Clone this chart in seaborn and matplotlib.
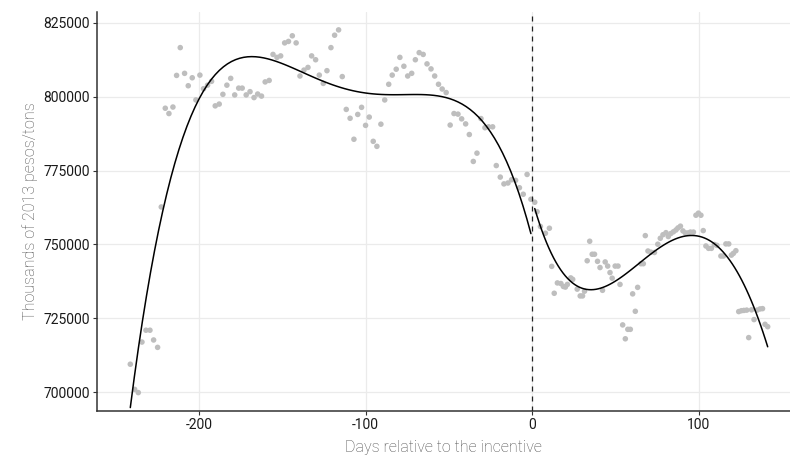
import numpy as np
import pandas as pd
import matplotlib
matplotlib.use("Agg")
import matplotlib.pyplot as plt
import seaborn as sns

# ---- data ----
days_left = [-241.4, -238.8, -236.6, -234.4, -232.0, -229.6, -227.4, -225.0, -222.8, -220.4,
             -218.2, -215.8, -213.6, -211.4, -208.8, -206.6, -204.2, -202.0, -199.6, -197.4,
             -195.0, -192.6, -190.4, -188.0, -185.8, -183.4, -181.1, -178.7, -176.3, -174.2,
             -171.8, -169.5, -167.1, -164.9, -162.6, -160.4, -158.0, -155.7, -153.3, -151.1,
             -148.7, -146.4, -144.1, -141.8, -139.5, -137.1, -134.7, -132.5, -130.1, -127.9,
             -125.5, -123.3, -120.9, -118.7, -116.3, -114.1, -111.7, -109.4, -107.1, -104.8,
             -102.5, -100.1, -97.9, -95.5, -93.3, -90.9, -88.6, -86.2, -84.1, -81.7,
             -79.5, -77.1, -74.8, -72.4, -70.2, -67.9, -65.5, -63.2, -60.8, -58.6,
             -56.3, -54.1, -51.7, -49.3, -47.0, -44.6, -42.4, -40.0, -37.8, -35.4,
             -33.2, -30.8, -28.4, -26.2, -23.8, -21.6, -19.2, -17.0, -14.6, -12.4,
             -10.0, -7.7, -5.4, -3.1, -0.8]
value_left = [709500, 701000, 699900, 717000, 721000, 721000, 717700, 715200, 762700, 796100,
              794300, 796500, 807200, 816600, 807900, 803700, 806400, 798900, 807300, 802700,
              803900, 805200, 796900, 797500, 800800, 803900, 806200, 800600, 802900, 802900,
              800600, 801700, 799700, 800900, 800200, 805000, 805500, 814300, 813300, 813800,
              818200, 818700, 820600, 818200, 807000, 809000, 809900, 813800, 812500, 807300,
              804500, 808800, 816600, 820800, 822600, 806800, 795700, 792700, 785600, 794000,
              796400, 790300, 793100, 784900, 783200, 790700, 798900, 804200, 807300, 809300,
              813300, 810300, 807000, 807900, 812500, 814900, 814300, 811100, 809400, 807000,
              804200, 802600, 801400, 790400, 794300, 794100, 792500, 790800, 787200, 778100,
              780900, 792600, 789500, 789800, 789800, 776700, 772800, 770500, 770800, 771900,
              771700, 769200, 767000, 773700, 765300]

days_right = [1.5, 2.9, 4.9, 7.9, 10.3, 11.7, 13.2, 15.1, 17.2, 18.7,
              19.9, 21.1, 23.1, 24.3, 27.0, 28.8, 30.2, 31.4, 33.0, 34.5,
              36.0, 37.4, 39.2, 40.7, 42.2, 43.8, 45.3, 46.7, 48.0, 49.8,
              51.5, 52.7, 54.3, 55.9, 57.4, 58.9, 60.3, 61.9, 63.3, 65.3,
              66.7, 67.9, 69.5, 71.3, 73.4, 75.4, 76.9, 78.5, 80.3, 81.7,
              83.2, 84.8, 86.3, 87.5, 89.0, 90.5, 92.0, 93.5, 95.0, 96.8,
              98.3, 99.8, 101.3, 102.7, 104.3, 105.9, 107.6, 109.4, 110.9, 113.3,
              114.8, 116.3, 118.0, 119.6, 120.8, 122.3, 124.0, 125.6, 127.1, 128.8,
              130.0, 131.7, 133.2, 135.0, 136.8, 138.3, 139.8, 141.4]
value_right = [764300, 761100, 756100, 753800, 755500, 742600, 733500, 737000, 736800, 735800,
               735600, 736500, 738700, 738200, 734900, 732600, 732600, 734200, 744500, 751100,
               746700, 746700, 744300, 742200, 734500, 744100, 742700, 740500, 738600, 742700,
               742700, 736500, 722800, 718100, 721300, 721300, 733300, 727400, 735500, 743500,
               743500, 753000, 747800, 747400, 747300, 750100, 752100, 753300, 754000, 752700,
               753700, 754300, 754900, 755600, 756200, 754600, 753900, 753900, 754200, 754200,
               759900, 760600, 759900, 754700, 749500, 748700, 748700, 750000, 749700, 746100,
               746100, 750200, 750200, 746400, 747000, 747900, 727300, 727600, 727700, 727800,
               718500, 727900, 724600, 727800, 728200, 728300, 723000, 722200]

x_ticks = [-200, -100, 0, 100]
y_ticks = [700000, 725000, 750000, 775000, 800000, 825000]
cutoff = 0
poly_order = 4

left = pd.DataFrame({"days": days_left, "value": value_left})
right = pd.DataFrame({"days": days_right, "value": value_right})
allpts = pd.concat([left, right], ignore_index=True)

# ---- figure ----
sns.set_theme(style="white")
plt.rcParams["font.family"] = ["Roboto", "DejaVu Sans"]

fig = plt.figure(figsize=(7.9, 4.55), dpi=100)
ax = fig.add_axes([97 / 790, 1 - 410.7 / 455, (790 - 97) / 790, (410.7 - 12) / 455])

ax.set_axisbelow(True)
ax.grid(True, color="#EBEBEB", linewidth=0.9)

sns.scatterplot(data=allpts, x="days", y="value", color="#BEBEBE", s=16,
                edgecolor="none", linewidth=0, ax=ax, zorder=2)
sns.regplot(data=left, x="days", y="value", order=poly_order, scatter=False, ci=None,
            truncate=True, line_kws={"color": "black", "linewidth": 1.1, "zorder": 3}, ax=ax)
sns.regplot(data=right, x="days", y="value", order=poly_order, scatter=False, ci=None,
            truncate=True, line_kws={"color": "black", "linewidth": 1.1, "zorder": 3}, ax=ax)

ax.axvline(cutoff, color="#222222", linewidth=0.9, linestyle=(0, (4, 4)), zorder=4)

ax.set_xlim(-261.4, 154.8)
ax.set_ylim(693775, 828650)
ax.set_xticks(x_ticks)
ax.set_yticks(y_ticks)
ax.set_xticklabels([str(t) for t in x_ticks])
ax.set_yticklabels([str(t) for t in y_ticks])

for side in ["top", "right"]:
    ax.spines[side].set_visible(False)
for side in ["left", "bottom"]:
    ax.spines[side].set_color("#333333")
    ax.spines[side].set_linewidth(1.1)

ax.tick_params(axis="both", which="major", length=3, width=0.8, color="#333333",
               labelsize=10, labelcolor="#1a1a1a", pad=2, direction="out",
               bottom=True, left=True)

ax.set_xlabel("Days relative to the incentive", fontsize=11.5, color="#4d4d4d",
              fontweight="light", labelpad=6)
ax.set_ylabel("Thousands of 2013 pesos/tons", fontsize=11.5, color="#4d4d4d",
              fontweight="light", labelpad=4)

fig.savefig("out.png", dpi=100)
